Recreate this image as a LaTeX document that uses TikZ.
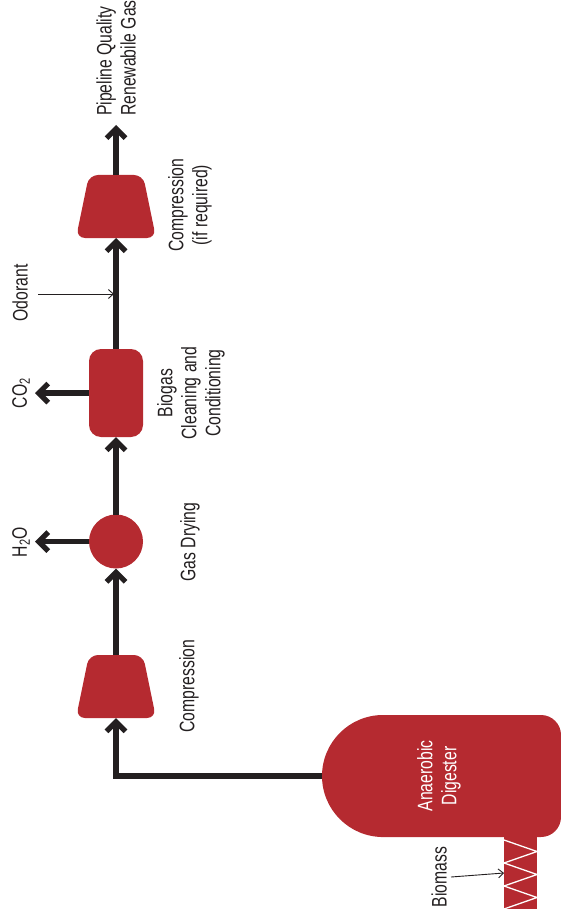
\documentclass[tikz,border=0pt]{standalone}
\usepackage{fontspec}
\setmainfont{Liberation Sans}[FakeStretch=0.75]
\usetikzlibrary{arrows.meta,calc}
\definecolor{tankred}{RGB}{181,42,48}
\definecolor{ink}{RGB}{35,31,32}

\begin{document}
\begin{tikzpicture}[x=1pt,y=-1pt,
  unit/.style={fill=tankred, draw=none, inner sep=0pt, outer sep=0pt},
  frame/.style={draw=none, inner sep=0pt, outer sep=0pt},
  compressor/.style={frame, minimum width=80pt, minimum height=63pt},
  dryer/.style={unit, circle, minimum size=54pt},
  cleaner/.style={unit, rectangle, rounded corners=12pt,
    minimum width=54pt, minimum height=88pt},
  lbl/.style={rotate=90, text=ink, align=center, inner sep=0pt,
    font=\fontsize{21}{24}\selectfont},
  flow/.style={draw=ink, line width=5.3pt, line join=miter,
    -{Straight Barb[length=9.5pt, width=19pt, sharp]}},
  feed/.style={draw=ink, line width=0.9pt,
    -{Straight Barb[length=5pt, width=9pt]}},
  zig/.style={draw=white, line width=1.3pt}]

\useasboundingbox (0,0) rectangle (560,917);

% process units along the main gas line
\node[compressor] (comp1) at (116,686.5) {};
\node[dryer] (dry) at (116,541.5) {};
\node[cleaner] (clean) at (116,393) {};
\node[compressor] (comp2) at (116,206.5) {};

% compressor bodies: rounded trapezia, narrow end up
\foreach \c in {comp1,comp2}{
  \fill[tankred, rounded corners=9pt] (\c.north)
    -- ($(\c.north east)+(-13,0)$) -- (\c.south east) -- (\c.south west)
    -- ($(\c.north west)+(13,0)$) -- cycle;
}

% anaerobic digester with its feed screw
\node[frame, minimum width=239pt, minimum height=122pt] (dig) at (441.5,776) {};
\fill[tankred] (dig.north) [rounded corners=61pt] -- (dig.north west)
  -- (dig.south west) -- (dig.south) [rounded corners=20pt]
  -- (dig.south east) -- (dig.north east) -- cycle;
\node[unit, minimum width=33pt, minimum height=72pt] (screw) at (520.5,873) {};
\draw[zig] ($(screw.north west)+(0,3)$) -- ++(33,11.5) -- ++(-33,11.5)
  -- ++(33,11.5) -- ++(-33,11.5) -- ++(33,11.5) -- ++(-33,11.5);

% labels
\node[lbl, text=white] (digtxt) at (439,776) {Anaerobic\\Digester};
\node[lbl, align=left, anchor=west] (gas) at (116,116) {Pipeline Quality\\Renewabile Gas};
\node[lbl] (comp2lbl) at (190,205) {Compression\\(if required)};
\node[lbl] (cleanlbl) at (191,393) {Biogas\\Cleaning and\\Conditioning};
\node[lbl] (drylbl) at (190,542) {Gas Drying};
\node[lbl] (comp1lbl) at (189,686) {Compression};
\node[lbl] (h2o) at (21,542) {H\textsubscript{2}O};
\node[lbl] (co2) at (21,393) {CO\textsubscript{2}};
\node[lbl] (odor) at (20,293) {Odorant};
\node[lbl] (bio) at (439,877) {Biomass};

% free ends of the connectors
\coordinate (gastip) at (116,125);
\coordinate (h2otip) at (35,541.5);
\coordinate (co2tip) at (35,393);
\coordinate (odorin) at (38,294);
\coordinate (odorjoin) at (114,294);
\coordinate (bioin) at (451,877);

% gas flow
\draw[flow] (dig.west) -| (comp1.south);
\draw[flow] (comp1.north) -- (dry.south);
\draw[flow] (dry.north) -- (clean.south);
\draw[flow] (clean.north) -- (comp2.south);
\draw[flow] (comp2.north) -- (gastip);
\draw[flow] (dry.west) -- (h2otip);
\draw[flow] (clean.west) -- (co2tip);

% additions
\draw[feed] (odorin) -- (odorjoin);
\draw[feed] (bioin) -- (screw.west);
\end{tikzpicture}
\end{document}
